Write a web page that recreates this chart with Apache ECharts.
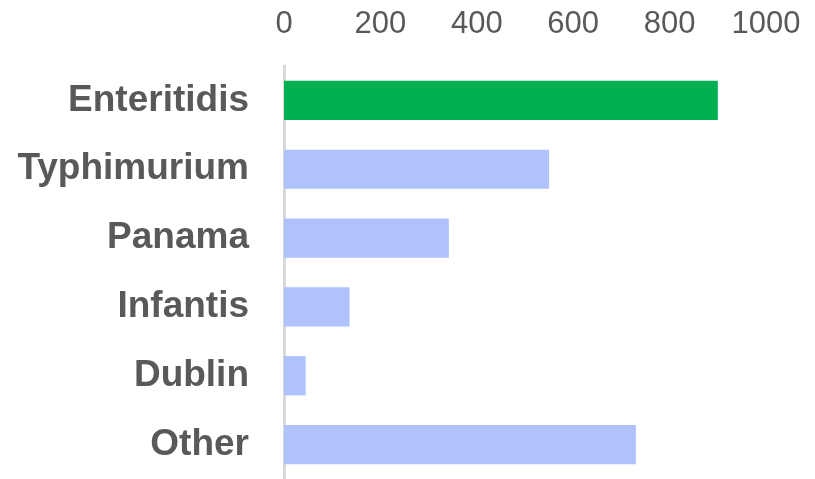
<!DOCTYPE html>
<html>
<head>
<meta charset="utf-8">
<script src="https://cdn.jsdelivr.net/npm/echarts@6/dist/echarts.min.js"></script>
<style>html,body{margin:0;padding:0;background:#fff;}#c{width:815px;height:479px;}</style>
</head>
<body>
<div id="c"></div>
<script>
const categories = ['Enteritidis', 'Typhimurium', 'Panama', 'Infantis', 'Dublin', 'Other'];
const values = [900, 550, 342, 136, 45, 730];
const barColors = ['#00b050', '#b0c2fb', '#b0c2fb', '#b0c2fb', '#b0c2fb', '#b0c2fb'];

const chart = echarts.init(document.getElementById('c'));
chart.setOption({
  animation: false,
  grid: { left: 284, right: 49, top: 66, bottom: 0, containLabel: false },
  xAxis: {
    type: 'value', position: 'top', min: 0, max: 1000, interval: 200,
    axisLine: { show: false }, axisTick: { show: false }, splitLine: { show: false },
    axisLabel: { fontSize: 31, color: '#595959', fontFamily: 'Liberation Sans, Arial', margin: 26,
      formatter: v => String(v) }
  },
  yAxis: {
    type: 'category', inverse: true, data: categories,
    axisLine: { show: true, lineStyle: { color: '#d9d9d9', width: 3 } },
    axisTick: { show: false },
    axisLabel: { fontSize: 37, fontWeight: 'bold', color: '#595959', fontFamily: 'Liberation Sans, Arial', margin: 35 }
  },
  series: [{
    type: 'bar', barWidth: '57%',
    data: values.map((v, i) => ({ value: v, itemStyle: { color: barColors[i] } }))
  }]
});
</script>
</body>
</html>
